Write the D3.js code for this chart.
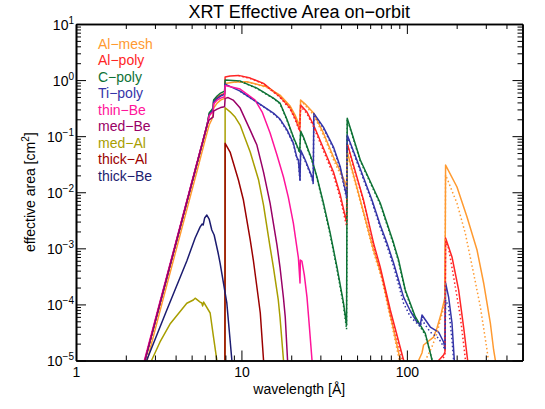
<!DOCTYPE html>
<html>
<head>
<meta charset="utf-8">
<script src="https://cdn.jsdelivr.net/npm/d3@7"></script>
<style>
  body { margin: 0; background: #fff; }
  text { font-family: "Liberation Sans", Arial, Helvetica, sans-serif; }
</style>
</head>
<body>
<svg id="chart" width="545" height="409"></svg>
<script>
// effective area [cm^2] vs wavelength [A]; null = gap below the axis
const alMesh = [[2.62,7.4e-6],[3.31,1.05e-4],[4.38,2.37e-3],[5.40,0.0244],[6.03,0.0852],[6.38,0.158],[6.60,0.194],[6.74,0.238],[6.79,0.317],[7.13,0.389],[7.48,0.44],[7.91,0.472],
  [7.97,0.866],[9.16,0.921],[10.8,0.933],[14.2,0.760],[17.1,0.540],[19.7,0.344],[21.1,0.238],[22.5,0.151],
  [22.8,0.44],[24.3,0.373],[27.3,0.258],[31.3,0.114],[36.0,0.0424],[39.6,0.0239],[43.2,0.0129],
  [43.6,0.0527],[52.3,7.26e-3],[62.9,9.33e-4],[70.7,3.08e-4],[79.4,6.47e-5],[91.2,1.02e-5],[92.5,7e-6],null,
  [116,7e-6],[117.7,1.0e-5],[123.4,1.36e-5],[126.2,1.89e-5],[145,2.62e-5],[152.1,3.80e-5],[161.5,7.03e-5],[170,1.35e-4],
  [171.4,0.0305],[200.9,0.0124],[231,3.61e-3],[265.5,9.33e-4],[291.1,2.41e-4],[319.6,4.66e-5],[334.6,1.54e-5],[342.6,1.02e-5],[346,8e-6]]
const alMeshDot = [[9.16,0.915],[10.8,0.925],[14.2,0.745],[17.1,0.52],[19.7,0.325],[21.1,0.222],[22.5,0.14],[22.8,0.42],[24.3,0.355],[27.3,0.24],[31.3,0.104],[36.0,0.038],[39.6,0.021],[43.2,0.0113],
  [43.6,0.049],[52.3,6.7e-3],[62.9,8.5e-4],[70.7,2.8e-4],[79.4,5.8e-5],[90,1.02e-5],[91.5,7e-6],null,
  [128,7e-6],[129.2,1.0e-5],[141.9,1.76e-5],[152.1,3.05e-5],[159.3,5.27e-5],[170,1.07e-4],
  [171.4,0.0203],[174.8,0.0177],[200.9,6.34e-3],[225.6,1.85e-3],[253.2,3.58e-4],[278,9.1e-5],[305.2,1.54e-5],[310.8,1.02e-5],[312,8e-6]]

const alPoly = [[2.54,7.4e-6],[3.22,1.05e-4],[4.26,2.37e-3],[5.25,0.0244],[5.87,0.0852],[6.20,0.158],[6.38,0.248],[6.60,0.280],[6.74,0.304],[6.79,0.422],[7.13,0.488],[7.48,0.540],[7.91,0.579],
  [7.97,1.131],[8.54,1.178],[9.59,1.213],[11.3,1.086],[13.6,0.873],[17.1,0.504],[19.7,0.317],[21.1,0.210],[22.5,0.128],
  [22.8,0.358],[24.9,0.269],[27.3,0.158],[31.3,0.061],[36.0,0.0229],[39.6,8.9e-3],[43.2,2.94e-3],
  [43.6,0.0744],[54.7,7.26e-3],[62.9,1.24e-3],[69.0,4.64e-4],[79.4,7.95e-5],[95.5,1.02e-5],[97,7e-6],null,
  [154,7e-6],[155.5,1.0e-5],[166.7,1.25e-5],[170,1.42e-5],
  [171.4,1.53e-3],[187.4,7.0e-4],[205.5,1.81e-4],[220.3,3.95e-5],[232.9,1.02e-5],[234,8e-6]]
const alPolyDot = [[9.59,1.2],[11.3,1.07],[13.6,0.855],[17.1,0.49],[19.7,0.302],[21.1,0.198],[22.5,0.12],[22.8,0.34],[24.9,0.252],[27.3,0.146],[31.3,0.055],[36.0,0.0202],[39.6,7.7e-3],[43.2,2.5e-3],
  [43.6,0.071],[54.7,6.8e-3],[62.9,1.15e-3],[69,4.2e-4],[79.4,7.1e-5],[94,1.02e-5],[95.5,7e-6],null,
  [158,7e-6],[159,9e-6],[170,1.25e-5],
  [171.4,1.24e-3],[178.8,1.0e-3],[191.6,3.12e-4],[210.4,6.04e-5],[222.5,1.54e-5],[227,9e-6],[228,7e-6]]

const cPoly = [[2.54,7.4e-6],[3.22,1.05e-4],[4.26,2.37e-3],[5.25,0.0244],[5.87,0.0852],[6.20,0.158],[6.38,0.258],[6.60,0.292],[6.74,0.317],[6.79,0.44],[7.13,0.519],[7.48,0.587],[7.91,0.637],
  [7.97,1.0],[9.82,0.96],[12.4,0.72],[15.6,0.478],[17.1,0.389],[18.8,0.202],[20.6,0.0964],[22.5,0.0521],
  [22.8,0.123],[23.7,0.0964],[26.7,0.0375],[28.6,0.0187],[31.3,6.42e-3],[34.4,1.87e-3],[37.8,4.64e-4],[41.4,1.06e-4],[43.2,4.29e-5],
  [43.6,0.208],[52.3,0.0375],[69.0,6.42e-3],[83.1,1.24e-3],[89.1,6.19e-4],[97.8,1.81e-4],[112.4,6.04e-5],[120.5,4.29e-5],[129.2,3.05e-5],[138.6,1.35e-5],[141.9,1.02e-5],[143,8e-6]]
const cPolyDot = [[9.82,0.955],[12.4,0.71],[15.6,0.47],[17.1,0.38],[18.8,0.196],[20.6,0.093],[22.5,0.05],[22.8,0.12],[23.7,0.093],[26.7,0.036],[28.6,0.0178],[31.3,6.0e-3],[34.4,1.72e-3],[37.8,4.2e-4],[41.4,9.4e-5],[43.2,3.6e-5],
  [43.6,0.2],[52.3,0.036],[69,6.1e-3],[83.1,1.17e-3],[89.1,5.8e-4],[97.8,1.7e-4],[112.4,5.7e-5],[120.5,4.0e-5],[129.2,2.85e-5],[138.6,1.35e-5],[145,8e-6]]

const tiPoly = [[2.54,7.4e-6],[3.22,1.05e-4],[4.26,2.37e-3],[5.25,0.0244],[5.87,0.0852],[6.20,0.158],[6.38,0.238],[6.60,0.269],[6.74,0.292],[6.79,0.405],[7.13,0.468],[7.48,0.519],[7.91,0.556],
  [7.97,0.849],[9.82,0.637],[12.4,0.405],[15.6,0.258],[17.1,0.202],[18.9,0.128],[20.6,0.0753],[21.6,0.0424],[22.1,0.0375],[22.6,0.0165],
  [22.8,0.0565],[24.3,0.0375],[26.7,0.0188],[27.15,0.0147],
  [27.4,0.255],[31.3,0.145],[36.0,0.0639],[39.6,0.0281],[43.2,8.55e-3],
  [43.6,0.1046],[52.3,0.0259],[61.5,7.26e-3],[69.0,2.60e-3],[75.8,1.24e-3],[83.1,5.47e-4],[95.5,1.35e-4],[104.9,7.63e-5],[115.1,4.86e-5],[120.5,4.29e-5],[123.4,6.47e-5],[138.6,3.95e-5],[155.5,3.22e-5],[166.7,2.14e-5],[170,1.67e-5],
  [171.4,2.41e-4],[178.8,1.35e-4],[187.4,4.66e-5],[193.5,1.02e-5],[194.5,8e-6]]
const tiPolyDot = [[9.82,0.63],[12.4,0.4],[15.6,0.252],[17.1,0.196],[18.9,0.123],[20.6,0.072],[21.6,0.04],[22.1,0.035],[22.6,0.0155],[22.8,0.054],[24.3,0.0355],[26.7,0.0178],[27.15,0.014],
  [27.4,0.245],[31.3,0.138],[36.0,0.06],[39.6,0.026],[43.2,7.7e-3],
  [43.6,0.1],[52.3,0.024],[61.5,6.7e-3],[69,2.35e-3],[75.8,1.1e-3],[83.1,4.8e-4],[95.5,1.05e-4],[104.9,6.04e-5],[120.5,4.0e-5],[123.4,5.27e-5],[138.6,3.2e-5],[155.5,2.5e-5],[166.7,1.76e-5],[170,1.54e-5],
  [171.4,1.2e-4],[178.8,9.1e-5],[187.4,2.32e-5],[191.6,1.02e-5],[192.5,8e-6]]

const thinBe = [[2.52,7.4e-6],[3.2,1.05e-4],[4.24,2.37e-3],[5.23,0.0244],[5.86,0.0852],[6.20,0.158],[6.38,0.228],[6.60,0.258],[6.74,0.269],[6.79,0.373],[7.13,0.44],[7.48,0.477],[7.91,0.504],
  [7.97,0.798],[9.82,0.691],[12.1,0.44],[13.35,0.269],[14.9,0.114],[16.4,0.046],[17.95,0.0187],[19.2,8.21e-3],[20.6,2.82e-3],[22.1,6.72e-4],[22.6,2.41e-4],
  [22.7,6.19e-4],[23.2,5.94e-4],[24.0,3.34e-4],[24.9,1.35e-4],[25.7,4.29e-5],[26.7,1.02e-5],[27,8e-6]]

const medBe = [[2.54,7.4e-6],[3.22,1.05e-4],[4.26,2.37e-3],[5.25,0.0244],[5.87,0.0852],[6.20,0.158],[6.38,0.194],[6.60,0.210],[6.74,0.219],[6.79,0.280],[7.13,0.304],[7.48,0.323],[7.91,0.334],
  [7.97,0.472],[8.31,0.488],[8.91,0.44],[9.82,0.317],[11.3,0.128],[12.4,0.0694],[13.6,0.0229],[14.9,6.42e-3],[16.4,1.145e-3],[17.1,4.64e-4],[17.95,1.30e-4],[18.4,5.96e-5],[19.0,1.02e-5],[19.1,8e-6]]

const medAl = [[2.82,8e-6],[2.87,1.02e-5],[3.22,2.14e-5],[3.70,4.47e-5],[4.675,1.05e-4],[5.12,1.20e-4],[5.25,1.29e-4],[5.63,1.10e-4],[5.76,1.06e-4],[5.83,9.4e-5],[5.91,1.10e-4],[6.47,7.03e-5],[6.77,2.7e-5],[7.10,1.02e-5],[7.2,8e-6],null,
  [7.95,8e-6],[7.97,0.321],[8.54,0.272],[9.16,0.219],[9.82,0.158],[10.5,0.0925],[11.3,0.0521],[12.7,0.0165],[13.6,5.91e-3],[14.9,1.055e-3],[15.6,4.64e-4],[16.7,1.20e-4],[17.1,5.96e-5],[17.95,1.02e-5],[18.1,8e-6]]

const thickAl = [[7.95,8e-6],[7.97,0.0744],[8.54,0.0521],[9.59,0.0165],[10.28,7.26e-3],[11.3,1.41e-3],[11.8,6.19e-4],[12.7,1.20e-4],[13.0,7.03e-5],[13.6,1.02e-5],[13.7,8e-6]]

const thickBe = [[2.64,8e-6],[2.68,1.02e-5],[3.50,7.32e-5],[4.675,5.94e-4],[5.25,1.53e-3],[5.63,2.41e-3],[5.79,2.71e-3],[5.87,2.60e-3],[5.99,3.47e-3],[6.18,3.92e-3],[6.38,3.33e-3],[6.62,2.12e-3],[6.84,1.73e-3],[7.23,8.25e-4],[7.43,5.47e-4],[7.97,1.60e-4],[8.16,1.06e-4],[8.75,1.02e-5],[8.85,8e-6]]

const filterNames = ['Al−mesh', 'Al−poly', 'C−poly', 'Ti−poly', 'thin−Be', 'med−Be', 'med−Al', 'thick−Al', 'thick−Be']
const solidSeries = [alMesh, alPoly, cPoly, tiPoly, thinBe, medBe, medAl, thickAl, thickBe]
const dottedSeries = [alMeshDot, alPolyDot, cPolyDot, tiPolyDot]

const xMajor = [1, 10, 100]
const xMinor = [2, 3, 4, 5, 6, 7, 8, 9, 20, 30, 40, 50, 60, 70, 80, 90, 200, 300, 400]
const yExponents = [-5, -4, -3, -2, -1, 0, 1]

// styles
const colors = ['#FF9A30', '#FF2525', '#0E7236', '#3535A8', '#FF149A', '#990066', '#A89E00', '#9B0000', '#1C1C70']

const svg = d3.select('#chart')
const plotLeft = 76, plotRight = 522.5, plotTop = 24, plotBottom = 360.5

const x = d3.scaleLog().domain([1, 500]).range([plotLeft, plotRight])
const y = d3.scaleLog().domain([1e-5, 10]).range([plotBottom, plotTop])

const yMajor = yExponents.map(e => Math.pow(10, e))
const yMinor = []
yExponents.slice(0, -1).forEach(e => {
  for (let k = 2; k <= 9; k++) yMinor.push(k * Math.pow(10, e))
})

svg.append('defs').append('clipPath').attr('id', 'plot-clip')
  .append('rect')
    .attr('x', plotLeft).attr('y', plotTop)
    .attr('width', plotRight - plotLeft).attr('height', plotBottom - plotTop)

const line = d3.line()
  .defined(d => d !== null)
  .x(d => x(d[0]))
  .y(d => y(d[1]))

const plot = svg.append('g').attr('clip-path', 'url(#plot-clip)')

plot.selectAll('.solid')
  .data(solidSeries)
  .enter()
    .append('path')
    .attr('class', 'solid')
    .attr('d', line)
    .attr('fill', 'none')
    .attr('stroke', (d, i) => colors[i])
    .attr('stroke-width', 1.5)
    .attr('stroke-linejoin', 'round')

plot.selectAll('.dotted')
  .data(dottedSeries)
  .enter()
    .append('path')
    .attr('class', 'dotted')
    .attr('d', line)
    .attr('fill', 'none')
    .attr('stroke', (d, i) => colors[i])
    .attr('stroke-width', 1.5)
    .attr('stroke-dasharray', '1.5,2.5')

// axes, ticks pointing inward on all four sides
function style_axis(g) {
  g.select('.domain').attr('stroke', '#000').attr('stroke-width', 1.6)
  g.selectAll('.tick line').attr('stroke', '#000').attr('stroke-width', 1)
}

svg.append('g')
  .attr('transform', `translate(0,${plotBottom})`)
  .call(d3.axisBottom(x).tickValues(xMajor).tickSize(-10).tickSizeOuter(0).tickPadding(7).tickFormat(d3.format('d')))
  .call(style_axis)
  .call(g => g.selectAll('text').attr('font-size', 14).attr('fill', '#000').attr('font-family', null))
svg.append('g')
  .attr('transform', `translate(0,${plotBottom})`)
  .call(d3.axisBottom(x).tickValues(xMinor).tickSize(-5).tickSizeOuter(0).tickFormat(''))
  .call(style_axis)

svg.append('g')
  .attr('transform', `translate(0,${plotTop})`)
  .call(d3.axisTop(x).tickValues(xMajor).tickSize(-10).tickSizeOuter(0).tickFormat(''))
  .call(style_axis)
svg.append('g')
  .attr('transform', `translate(0,${plotTop})`)
  .call(d3.axisTop(x).tickValues(xMinor).tickSize(-5).tickSizeOuter(0).tickFormat(''))
  .call(style_axis)

const yLeft = svg.append('g')
  .attr('transform', `translate(${plotLeft},0)`)
  .call(d3.axisLeft(y).tickValues(yMajor).tickSize(-10).tickSizeOuter(0).tickFormat(''))
  .call(style_axis)
svg.append('g')
  .attr('transform', `translate(${plotLeft},0)`)
  .call(d3.axisLeft(y).tickValues(yMinor).tickSize(-5).tickSizeOuter(0).tickFormat(''))
  .call(style_axis)

svg.append('g')
  .attr('transform', `translate(${plotRight},0)`)
  .call(d3.axisRight(y).tickValues(yMajor).tickSize(-10).tickSizeOuter(0).tickFormat(''))
  .call(style_axis)
svg.append('g')
  .attr('transform', `translate(${plotRight},0)`)
  .call(d3.axisRight(y).tickValues(yMinor).tickSize(-5).tickSizeOuter(0).tickFormat(''))
  .call(style_axis)

// y tick labels as 10 with a superscript exponent
yLeft.selectAll('.tick').each(function (d) {
  const e = Math.round(Math.log10(d))
  const t = d3.select(this).append('text')
    .attr('x', -2)
    .attr('y', 5)
    .attr('text-anchor', 'end')
    .attr('font-size', 14)
    .attr('fill', '#000')
  t.append('tspan').text('10')
  t.append('tspan')
    .attr('font-size', 10)
    .attr('dy', -6)
    .text(e < 0 ? '−' + (-e) : String(e))
})

// titles
svg.append('text')
  .attr('x', (plotLeft + plotRight) / 2)
  .attr('y', 18)
  .attr('text-anchor', 'middle')
  .attr('font-size', 18)
  .text('XRT Effective Area on−orbit')

svg.append('text')
  .attr('x', (plotLeft + plotRight) / 2)
  .attr('y', 394)
  .attr('text-anchor', 'middle')
  .attr('font-size', 14)
  .text('wavelength [Å]')

const yTitle = svg.append('text')
  .attr('transform', `translate(35,${(plotTop + plotBottom) / 2}) rotate(-90)`)
  .attr('text-anchor', 'middle')
  .attr('font-size', 14)
yTitle.append('tspan').text('effective area [cm')
yTitle.append('tspan').attr('font-size', 10).attr('dy', -6).text('2')
yTitle.append('tspan').attr('dy', 6).text(']')

// legend
svg.selectAll('.legend')
  .data(filterNames)
  .enter()
    .append('text')
    .attr('class', 'legend')
    .attr('x', 98)
    .attr('y', (d, i) => 48.5 + i * 16.55)
    .attr('font-size', 14)
    .attr('fill', (d, i) => colors[i])
    .text(d => d)
</script>
</body>
</html>
